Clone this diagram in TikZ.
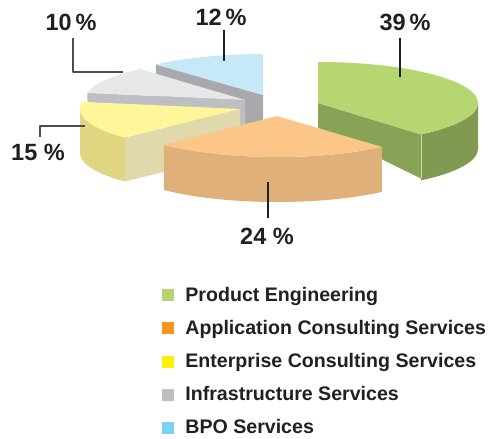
\documentclass[tikz,border=0pt]{standalone}
\usepackage{fontspec}
\setmainfont{Liberation Sans}
\usetikzlibrary{positioning}
\definecolor{txt}{HTML}{231F20}
\definecolor{gtop}{HTML}{B5D670}
\definecolor{gside}{HTML}{87A355}
\definecolor{otop}{HTML}{FCC689}
\definecolor{oside}{HTML}{E0B07A}
\definecolor{ytop}{HTML}{FFF599}
\definecolor{yside}{HTML}{E0D580}
\definecolor{ycut}{HTML}{DFD9AB}
\definecolor{itop}{HTML}{E6E7E8}
\definecolor{icut}{HTML}{BEBFC3}
\definecolor{btop}{HTML}{C6E9F9}
\definecolor{bcut}{HTML}{A7A9AC}
\definecolor{kgreen}{HTML}{B5D66F}
\definecolor{korange}{HTML}{F7941E}
\definecolor{kyellow}{HTML}{FFF200}
\definecolor{kgray}{HTML}{BCBEC0}
\definecolor{kblue}{HTML}{7DD2F5}

\begin{document}
\begin{tikzpicture}[x=1pt,y=1pt,yscale=-1,line join=round,
  pct/.style={font=\bfseries\fontsize{23.5}{27}\selectfont,text=txt,inner sep=0pt},
  leader/.style={draw=txt,line width=2.2pt},
  thinleader/.style={draw=txt!80,line width=1.3pt},
  key/.style={minimum size=12pt,inner sep=0pt},
  keytext/.style={font=\bfseries\fontsize{19.6}{23}\selectfont,text=txt,inner sep=0pt},
  er/.style={x radius=160,y radius=41}]
  \useasboundingbox (0,0) rectangle (496,439);
  \coordinate (GC) at (318,103);
  \coordinate (OC) at (277,116);
  \coordinate (YC) at (240,109);
  \coordinate (IC) at (245,100);
  \coordinate (BC) at (263,95);
  % BPO slice
  \fill[bcut] (BC) -- ++(228:160 and 41) -- ++(0,44) -- (263,139) -- cycle;
  \fill[btop] (BC) -- ++(228:160 and 41) arc[start angle=228,end angle=270,er] -- cycle;
  % infrastructure slice
  \fill[icut] (IC) -- ++(190:160 and 41) -- ++(0,30) -- (245,130) -- cycle;
  \fill[itop] (IC) -- ++(190:160 and 41) arc[start angle=190,end angle=229,er] -- cycle;
  % enterprise slice
  \fill[ycut] (YC) -- ++(136:160 and 41) -- ++(0,44) -- (240,153) -- cycle;
  \fill[yside] (YC) ++(136:160 and 41) arc[start angle=136,end angle=180,er] -- ++(0,44) arc[start angle=180,end angle=136,er] -- cycle;
  \fill[ytop] (YC) -- ++(190:160 and 41) arc[start angle=190,end angle=136,er] -- cycle;
  % product slice
  \fill[gside] (GC) -- ++(50:160 and 41) -- ++(0,44) -- (318,128) -- cycle;
  \fill[gside!95!black] (GC) ++(0:160 and 41) arc[start angle=0,end angle=50,er] -- ++(0,46) arc[start angle=50,end angle=0,er] -- cycle;
  \draw[gtop!70!white,line width=0.6pt] (GC) ++(50:160 and 41) -- ++(0,44);
  \fill[gtop] (GC) -- ++(-90:160 and 41) arc[start angle=-90,end angle=50,er] -- cycle;
  % application slice
  \fill[oside] (OC) ++(135:160 and 41) arc[start angle=135,end angle=49,er] -- ++(0,45) arc[start angle=49,end angle=135,er] -- cycle;
  \fill[otop] (OC) -- ++(135:160 and 41) arc[start angle=135,end angle=49,er] -- cycle;
  % labels
  \node[pct] (P39) at (405,22) {39\,\%};
  \node[pct] (P12) at (221,17) {12\,\%};
  \node[pct] (P10) at (71,22) {10\,\%};
  \node[pct] (P15) at (38,152) {15 \%};
  \node[pct] (P24) at (267,236) {24 \%};
  \draw[leader] (400,38) -- (400,77);
  \draw[leader] (224,30) -- (224,61);
  \draw[leader] (268,182) -- (268,218);
  \draw[thinleader] (73,38) -- (73,72) -- (123,72);
  \draw[thinleader] (85,126) -- (40,126) -- (40,137);
  % legend
  \node[key,fill=kgreen] (K1) at (168,295) {};
  \node[key,fill=korange] (K2) at (168,328) {};
  \node[key,fill=kyellow] (K3) at (168,361.5) {};
  \node[key,fill=kgray] (K4) at (168,394.5) {};
  \node[key,fill=kblue] (K5) at (168,427.5) {};
  \node[keytext,right=11pt of K1.south east,anchor=base west] (L1) {Product Engineering};
  \node[keytext,right=11pt of K2.south east,anchor=base west] (L2) {Application Consulting Services};
  \node[keytext,right=11pt of K3.south east,anchor=base west] (L3) {Enterprise Consulting Services};
  \node[keytext,right=11pt of K4.south east,anchor=base west] (L4) {Infrastructure Services};
  \node[keytext,right=11pt of K5.south east,anchor=base west] (L5) {BPO Services};
\end{tikzpicture}
\end{document}
